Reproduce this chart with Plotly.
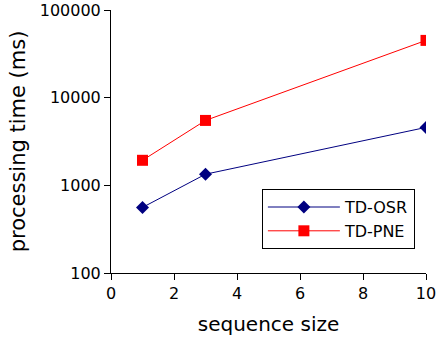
import plotly.graph_objects as go

seq_size = [1, 3, 10]
td_osr = [560, 1340, 4580]
td_pne = [1930, 5500, 45000]

fig = go.Figure()
fig.add_trace(go.Scatter(x=seq_size, y=td_osr, name="TD-OSR", mode="lines+markers",
                         line=dict(color="#000080", width=1),
                         marker=dict(symbol="diamond", size=10, color="#000080")))
fig.add_trace(go.Scatter(x=seq_size, y=td_pne, name="TD-PNE", mode="lines+markers",
                         line=dict(color="#ff0000", width=1),
                         marker=dict(symbol="square", size=11, color="#ff0000")))

axis_common = dict(showline=True, linecolor="black", linewidth=1, ticks="outside",
                   ticklen=6, tickcolor="black", showgrid=False, zeroline=False,
                   automargin=False, tickfont=dict(size=16, color="black"))
fig.update_xaxes(range=[0, 10], tickvals=[0, 2, 4, 6, 8, 10],
                 title=dict(text="sequence size", font=dict(size=20, color="black"), standoff=14),
                 **axis_common)
fig.update_yaxes(type="log", range=[2, 5], tickvals=[100, 1000, 10000, 100000],
                 ticktext=["100", "1000", "10000", "100000"],
                 title=dict(text="processing time (ms)", font=dict(size=21, color="black"), standoff=8),
                 **axis_common)

fig.update_layout(
    width=437, height=343,
    margin=dict(l=111, r=11, t=10, b=70),
    plot_bgcolor="white", paper_bgcolor="white",
    font=dict(family="DejaVu Sans", color="black"),
    legend=dict(x=0.479, y=0.319, xanchor="left", yanchor="top",
                bordercolor="black", borderwidth=1, bgcolor="white",
                font=dict(size=16), itemwidth=72),
    showlegend=True,
)
# drop the default page margin so the figure sits at the window's corner
fig.write_html("out.html", config={"displayModeBar": False},
               post_script="document.body.style.margin='0';")
